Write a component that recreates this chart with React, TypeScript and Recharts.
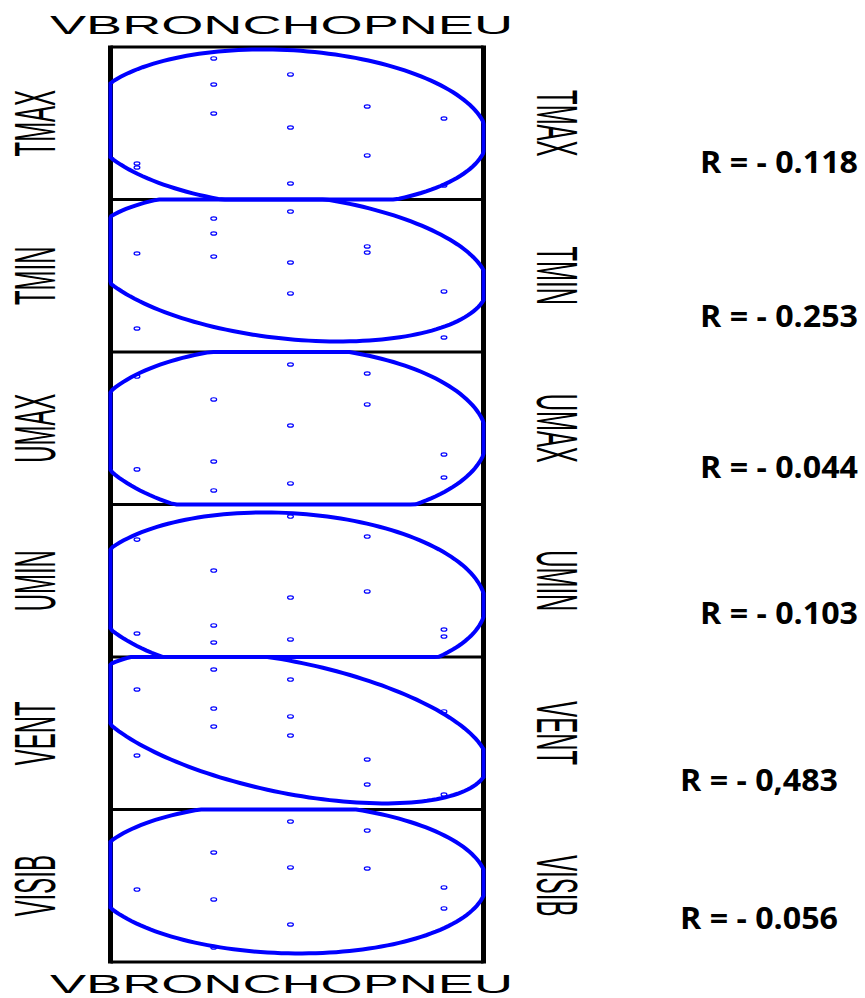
import React from 'react';
import { ScatterChart, Scatter, XAxis, YAxis } from 'recharts';

// panels, top to bottom
const variables = ['TMAX', 'TMIN', 'UMAX', 'UMIN', 'VENT', 'VISIB'];
const xLabel = 'VBRONCHOPNEU';
const rLabels = ['R = - 0.118', 'R = - 0.253', 'R = - 0.044', 'R = - 0.103', 'R = - 0,483', 'R = - 0.056'];
const rValues = [-0.118, -0.253, -0.044, -0.103, -0.483, -0.056];

// observations (x = VBRONCHOPNEU class, y = variable on a 0-10 scale)
const tmaxX = [1, 1, 2, 2, 2, 3, 3, 3, 4, 4, 5, 5];
const tmaxY = [2.36, 2.1, 9.25, 7.54, 5.64, 8.2, 4.72, 1.05, 6.1, 2.89, 5.31, 0.92];
const tminX = [1, 1, 2, 2, 2, 3, 3, 3, 4, 4, 5, 5];
const tminY = [6.46, 1.54, 8.75, 7.77, 6.26, 9.21, 5.87, 3.84, 6.92, 6.52, 3.97, 0.95];
const umaxX = [1, 1, 2, 2, 2, 3, 3, 3, 4, 4, 5, 5];
const umaxY = [8.39, 2.3, 6.89, 2.82, 0.92, 9.18, 5.18, 1.38, 8.59, 6.56, 3.28, 1.77];
const uminX = [1, 1, 2, 2, 2, 3, 3, 3, 4, 4, 5, 5];
const uminY = [7.7, 1.54, 5.67, 2.07, 0.95, 9.21, 3.9, 1.15, 7.9, 4.3, 1.8, 1.34];
const ventX = [1, 1, 2, 2, 2, 3, 3, 3, 4, 4, 5, 5];
const ventY = [7.87, 3.54, 9.18, 6.62, 5.44, 8.52, 6.1, 4.85, 3.28, 1.64, 6.43, 0.98];
const visibX = [1, 2, 2, 2, 3, 3, 3, 4, 4, 5, 5];
const visibY = [4.75, 7.18, 4.1, 0.95, 9.21, 6.2, 2.46, 8.62, 6.13, 4.89, 3.51];

const panelX = [tmaxX, tminX, umaxX, uminX, ventX, visibX];
const panelY = [tmaxY, tminY, umaxY, uminY, ventY, visibY];

// confidence ellipse per panel: centre, half extents
const ellipseCx = [2.953, 2.966, 2.967, 2.936, 2.971, 2.97];
const ellipseCy = [4.66, 5.59, 4.59, 3.97, 5.4, 5.48];
const ellipseAx = [2.612, 2.607, 2.593, 2.606, 2.601, 2.586];
const ellipseAy = [5.18, 4.9, 5.77, 5.51, 5.0, 4.92];

const X_DOMAIN: [number, number] = [0.655, 5.515];
const Y_MIN = 0;
const Y_MAX = 10;

const W = 865;
const H = 998;
const plotLeft = 110.5;
const plotRight = 483.5;
const plotTop = 47;
const plotBottom = 962;
const bandH = (plotBottom - plotTop) / variables.length;
const BLUE = '#0000ff';

const rLabelPos = [
  { x: 700, y: 173 },
  { x: 700, y: 327 },
  { x: 700, y: 478 },
  { x: 700, y: 624 },
  { x: 680, y: 791 },
  { x: 680, y: 929 },
];

const clamp = (v: number, lo: number, hi: number) => Math.min(hi, Math.max(lo, v));

// outline of the ellipse, cut to the panel box like the original plot
const ellipseOutline = (i: number) => {
  const rho = rValues[i];
  const s = Math.sqrt(1 - rho * rho);
  const pts = [];
  const n = 180;
  for (let k = 0; k <= n; k++) {
    const t = (2 * Math.PI * k) / n;
    const x = ellipseCx[i] + ellipseAx[i] * Math.cos(t);
    const y = ellipseCy[i] + ellipseAy[i] * (rho * Math.cos(t) + s * Math.sin(t));
    pts.push({ x: clamp(x, X_DOMAIN[0], X_DOMAIN[1]), y: clamp(y, Y_MIN, Y_MAX) });
  }
  return pts;
};

const panelPoints = (i: number) => panelX[i].map((x, k) => ({ x, y: panelY[i][k] }));

const OpenDot = (props: any) => (
  <ellipse cx={props.cx} cy={props.cy} rx={2.9} ry={1.7} fill="none" stroke={BLUE} strokeWidth={1.2} />
);
const NoDot = () => <g />;

const labelFont = 'Liberation Sans, Arial, sans-serif';

export default function App() {
  const n = variables.length;
  return (
    <div style={{ position: 'absolute', left: 0, top: 0, width: W, height: H, background: '#fff' }}>
      <svg width={W} height={H} style={{ position: 'absolute', left: 0, top: 0 }}>
        {/* frame */}
        {Array.from({ length: n + 1 }, (_, i) => (
          <line
            key={'h' + i}
            x1={plotLeft}
            x2={plotRight}
            y1={plotTop + i * bandH}
            y2={plotTop + i * bandH}
            stroke="#000"
            strokeWidth={3}
          />
        ))}
        <line x1={plotLeft} x2={plotLeft} y1={plotTop - 1.5} y2={plotBottom + 1.5} stroke="#000" strokeWidth={5} />
        <line x1={plotRight} x2={plotRight} y1={plotTop - 1.5} y2={plotBottom + 1.5} stroke="#000" strokeWidth={5} />

        <text x={50} y={34} fontSize={26} fontFamily={labelFont} textLength={463} lengthAdjust="spacingAndGlyphs">
          {xLabel}
        </text>
        <text x={50} y={993} fontSize={26} fontFamily={labelFont} textLength={463} lengthAdjust="spacingAndGlyphs">
          {xLabel}
        </text>

        {variables.map((v, i) => {
          const c = plotTop + (i + 0.5) * bandH;
          return (
            <g key={v} fontFamily={labelFont} fontSize={57}>
              <text transform={`translate(55, ${c}) rotate(-90) scale(0.42, 1)`} textAnchor="middle">
                {v}
              </text>
              <text transform={`translate(537, ${c}) rotate(90) scale(0.42, 1)`} textAnchor="middle">
                {v}
              </text>
            </g>
          );
        })}

        {rLabels.map((r, i) => (
          <text
            key={r}
            x={rLabelPos[i].x}
            y={rLabelPos[i].y}
            fontSize={31}
            fontWeight="bold"
            fontFamily="Open Sans, sans-serif"
            textLength={158}
            lengthAdjust="spacingAndGlyphs"
          >
            {r}
          </text>
        ))}
      </svg>

      <div style={{ position: 'absolute', left: 0, top: 0 }}>
        <ScatterChart
          width={W}
          height={H}
          margin={{ top: plotTop, bottom: H - plotBottom, left: plotLeft, right: W - plotRight }}
        >
          <XAxis type="number" dataKey="x" domain={X_DOMAIN} hide />
          {variables.map((v, i) => (
            <YAxis
              key={v}
              yAxisId={v}
              type="number"
              dataKey="y"
              domain={[-(n - 1 - i) * Y_MAX, (i + 1) * Y_MAX]}
              hide
            />
          ))}
          {variables.map((v, i) => (
            <Scatter
              key={'e' + v}
              name={v + ' ellipse'}
              yAxisId={v}
              data={ellipseOutline(i)}
              stroke={BLUE}
              strokeWidth={4}
              line={{ stroke: BLUE, strokeWidth: 4, fill: 'none' }}
              lineJointType="linear"
              shape={NoDot}
              isAnimationActive={false}
            />
          ))}
          {variables.map((v, i) => (
            <Scatter
              key={'p' + v}
              name={v}
              yAxisId={v}
              data={panelPoints(i)}
              shape={OpenDot}
              isAnimationActive={false}
            />
          ))}
        </ScatterChart>
      </div>
    </div>
  );
}
